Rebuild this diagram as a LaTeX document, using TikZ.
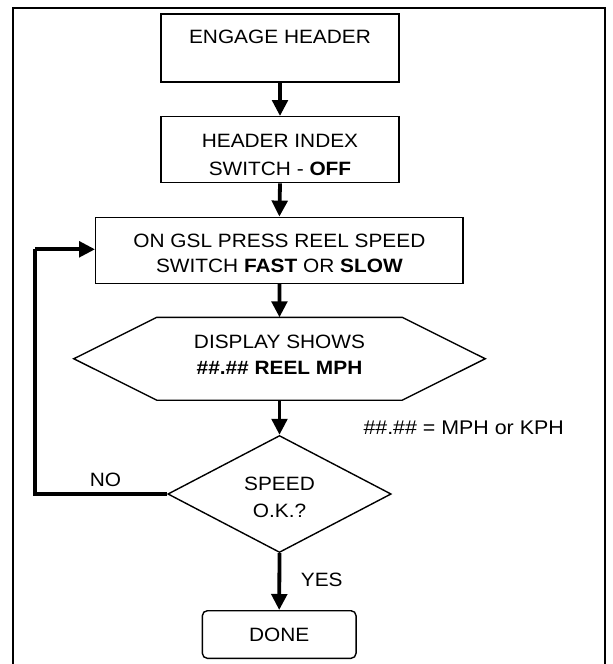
\documentclass[tikz,border=0pt]{standalone}
\usepackage{fontspec}
\setmainfont[FakeStretch=1.08]{Liberation Sans}
\usetikzlibrary{arrows.meta,shapes.geometric}
\begin{document}
\begin{tikzpicture}[x=1pt,y=-1pt,
  every node/.style={font=\fontsize{19.3}{24.6}\selectfont, inner sep=0pt, align=center},
  boxnode/.style={draw, line width=1.4pt, rectangle},
  flowarrow/.style={line width=3.8pt, -{Triangle[length=16pt,width=15.5pt]}},
  loopline/.style={line width=3.8pt},
  thinshape/.style={line width=1.4pt}
]
\useasboundingbox (0,0) rectangle (613,664);
% outer frame (bottom edge lies outside the picture)
\draw[line width=2pt] (12.5,670) -- (12.5,7.5) -- (604.5,7.5) -- (604.5,670);

\node[boxnode, minimum width=238pt, minimum height=68pt, text height=10pt, text depth=20pt]
  (engage) at (280,48) {ENGAGE HEADER};
\node[boxnode, minimum width=238pt, minimum height=66pt, text height=52pt, text depth=0pt]
  (index) at (280,149.7) {HEADER INDEX\\[4.1pt] SWITCH - \textbf{OFF}};
\node[boxnode, minimum width=367.3pt, minimum height=66pt, text height=44pt, text depth=0pt]
  (press) at (279.4,250.3) {ON GSL PRESS REEL SPEED\\ SWITCH \textbf{FAST} OR \textbf{SLOW}};
\node[rectangle, minimum width=411pt, minimum height=82.5pt, text height=30.5pt, text depth=0pt]
  (disp) at (279.5,358.75) {DISPLAY SHOWS\\[1.1pt] \textbf{\#\#.\#\# REEL MPH}};
\draw[thinshape] (disp.west) -- ([xshift=83pt]disp.north west) -- ([xshift=-83pt]disp.north east)
  -- (disp.east) -- ([xshift=-83pt]disp.south east) -- ([xshift=83pt]disp.south west) -- cycle;
\node[diamond, draw, thinshape, minimum width=223.4pt, minimum height=117pt, aspect=1.91,
  text height=46.6pt, text depth=0pt]
  (speed) at (279.5,494) {SPEED\\[2.7pt] O.K.?};
\node[boxnode, rounded corners=5pt, minimum width=153.7pt, minimum height=47.6pt]
  (done) at (279.2,634.5) {DONE};

\node[anchor=base west, font=\fontsize{19.8}{24}\selectfont] (note) at (363.3,434) {\#\#.\#\# = MPH or KPH};
\node[anchor=base] (no) at (105.5,486.7) {NO};
\node[anchor=base west] (yes) at (300.7,586.7) {YES};

\draw[flowarrow] (engage.south) -- (index.north);
\draw[flowarrow] (index.south) -- (press.north);
\draw[flowarrow] (press.south) -- (disp.north);
\draw[flowarrow] (disp.south) -- (speed.north);
\draw[flowarrow] (speed.south) -- (done.north);

\coordinate (loopcorner) at (35,249.3);
\draw[loopline] (speed.west) -| (loopcorner);
\draw[flowarrow] (loopcorner) -- (loopcorner -| press.west);
\end{tikzpicture}
\end{document}
